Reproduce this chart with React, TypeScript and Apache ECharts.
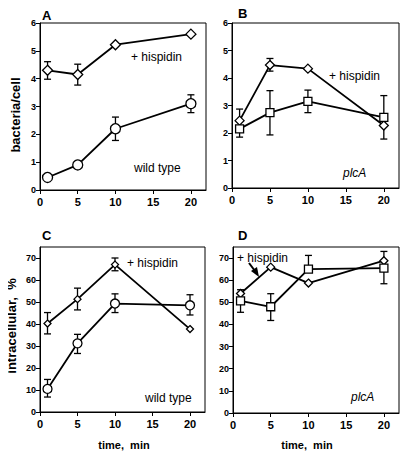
import React, { useEffect, useRef } from "react";
import * as echarts from "echarts";

// ---- data ----
const TIMES = [1, 5, 10, 20];

// Panel A: bacteria/cell, wild type
const A_HISP = [4.3, 4.15, 5.22, 5.6];
const A_HISP_LO = [3.98, 3.77, null, null];
const A_HISP_HI = [4.61, 4.52, null, null];
const A_WT = [0.45, 0.9, 2.2, 3.1];
const A_WT_LO = [null, null, 1.78, 2.78];
const A_WT_HI = [null, null, 2.62, 3.42];

// Panel B: bacteria/cell, plcA
const B_HISP = [2.45, 4.47, 4.34, 2.27];
const B_HISP_LO = [null, 4.25, null, 1.78];
const B_HISP_HI = [2.87, 4.71, null, null];
const B_PLC = [2.15, 2.74, 3.15, 2.57];
const B_PLC_LO = [1.85, 1.93, 2.74, null];
const B_PLC_HI = [null, 3.54, 3.56, 3.36];

// Panel C: intracellular %, wild type
const C_HISP = [40.2, 51.3, 67, 37.7];
const C_HISP_LO = [35.5, 46.4, 64.2, null];
const C_HISP_HI = [45.2, 56.3, 70, null];
const C_WT = [10.5, 31.2, 49.3, 48.5];
const C_WT_LO = [6.8, 26.6, 45.2, 44.1];
const C_WT_HI = [14.8, 35.3, 53.7, 53.3];

// Panel D: intracellular %, plcA
const D_HISP = [54, 65.9, 58.7, 68.8];
const D_HISP_LO = [null, null, null, null];
const D_HISP_HI = [55.7, null, null, 73];
const D_PLC = [50.7, 48, 65, 65.5];
const D_PLC_LO = [45.5, 41.8, null, 58.4];
const D_PLC_HI = [null, 53.9, 71.2, null];

const FONT = "'Liberation Sans', Arial, Helvetica, sans-serif";

function errData(vals: number[], lo: (number | null)[], hi: (number | null)[]) {
  return TIMES.map((t, i) => [t, vals[i], lo[i] ?? vals[i], hi[i] ?? vals[i]]);
}

function errSeries(idx: number, vals: number[], lo: (number | null)[], hi: (number | null)[]) {
  return {
    type: "custom",
    xAxisIndex: idx,
    yAxisIndex: idx,
    z: 1,
    silent: true,
    data: errData(vals, lo, hi),
    renderItem: (_params: any, api: any) => {
      const x = api.value(0);
      const y = api.value(1);
      const l = api.value(2);
      const h = api.value(3);
      const p = api.coord([x, y]);
      const children: any[] = [];
      const style = { stroke: "#000", lineWidth: 1.3 };
      const cap = 3.5;
      if (h !== y) {
        const ph = api.coord([x, h]);
        children.push({ type: "line", shape: { x1: p[0], y1: p[1], x2: ph[0], y2: ph[1] }, style });
        children.push({ type: "line", shape: { x1: ph[0] - cap, y1: ph[1], x2: ph[0] + cap, y2: ph[1] }, style });
      }
      if (l !== y) {
        const pl = api.coord([x, l]);
        children.push({ type: "line", shape: { x1: p[0], y1: p[1], x2: pl[0], y2: pl[1] }, style });
        children.push({ type: "line", shape: { x1: pl[0] - cap, y1: pl[1], x2: pl[0] + cap, y2: pl[1] }, style });
      }
      return { type: "group", children };
    },
  };
}

function lineSeries(idx: number, name: string, vals: number[], symbol: string, size: number) {
  return {
    type: "line",
    name,
    xAxisIndex: idx,
    yAxisIndex: idx,
    z: 3,
    data: TIMES.map((t, i) => [t, vals[i]]),
    symbol,
    symbolSize: size,
    showAllSymbol: true,
    lineStyle: { color: "#000", width: 1.8 },
    itemStyle: { color: "#fff", borderColor: "#000", borderWidth: 1.3 },
  };
}

const GRIDS = [
  { left: 40, top: 23, width: 166, height: 167 },
  { left: 232, top: 23, width: 167, height: 165 },
  { left: 40, top: 247, width: 165, height: 165 },
  { left: 233, top: 247, width: 166, height: 166 },
];

function xAxis(idx: number) {
  return {
    type: "value",
    gridIndex: idx,
    min: 0,
    max: 22,
    interval: 5,
    axisLine: { show: true, lineStyle: { color: "#000", width: 1 } },
    axisTick: { show: true, inside: false, length: 4, lineStyle: { color: "#000" } },
    axisLabel: {
      show: true,
      showMaxLabel: false,
      margin: 6,
      color: "#000",
      fontFamily: FONT,
      fontWeight: "bold",
      fontSize: 11,
    },
    splitLine: { show: false },
  };
}

function yAxis(idx: number, max: number, interval: number) {
  return {
    type: "value",
    gridIndex: idx,
    min: 0,
    max,
    interval,
    axisLine: { show: true, lineStyle: { color: "#000", width: 1 } },
    axisTick: { show: true, inside: false, length: 4, lineStyle: { color: "#000" } },
    axisLabel: {
      show: true,
      showMaxLabel: max % interval === 0,
      margin: 4,
      color: "#000",
      fontFamily: FONT,
      fontWeight: "bold",
      fontSize: 9,
    },
    splitLine: { show: false },
  };
}

function label(text: string, x: number, y: number, opts: any = {}) {
  return {
    type: "text",
    x,
    y,
    style: {
      text,
      fill: "#000",
      font: opts.font || `12px ${FONT}`,
      textAlign: opts.align || "left",
      textVerticalAlign: "middle",
    },
    rotation: opts.rotation || 0,
  };
}

export default function App() {
  const ref = useRef<HTMLDivElement>(null);
  useEffect(() => {
    if (!ref.current) return;
    const chart = echarts.init(ref.current, undefined, { renderer: "svg" });
    chart.setOption({
      animation: false,
      backgroundColor: "#fff",
      grid: GRIDS.map((g) => ({ ...g, show: true, borderColor: "#000", borderWidth: 1, backgroundColor: "transparent" })),
      xAxis: [0, 1, 2, 3].map((i) => xAxis(i)),
      yAxis: [yAxis(0, 6, 1), yAxis(1, 6, 1), yAxis(2, 75, 10), yAxis(3, 75, 10)],
      series: [
        errSeries(0, A_HISP, A_HISP_LO, A_HISP_HI),
        errSeries(0, A_WT, A_WT_LO, A_WT_HI),
        lineSeries(0, "A + hispidin", A_HISP, "diamond", 10),
        lineSeries(0, "A wild type", A_WT, "circle", 10),
        errSeries(1, B_HISP, B_HISP_LO, B_HISP_HI),
        errSeries(1, B_PLC, B_PLC_LO, B_PLC_HI),
        lineSeries(1, "B + hispidin", B_HISP, "diamond", 9),
        lineSeries(1, "B plcA", B_PLC, "rect", 8),
        errSeries(2, C_HISP, C_HISP_LO, C_HISP_HI),
        errSeries(2, C_WT, C_WT_LO, C_WT_HI),
        lineSeries(2, "C + hispidin", C_HISP, "diamond", 7),
        lineSeries(2, "C wild type", C_WT, "circle", 9),
        errSeries(3, D_HISP, D_HISP_LO, D_HISP_HI),
        errSeries(3, D_PLC, D_PLC_LO, D_PLC_HI),
        lineSeries(3, "D + hispidin", D_HISP, "diamond", 8),
        lineSeries(3, "D plcA", D_PLC, "rect", 8),
      ],
      graphic: [
        label("A", 42, 15, { font: `bold 13px ${FONT}` }),
        label("B", 238, 13, { font: `bold 13px ${FONT}` }),
        label("C", 42, 235, { font: `bold 13px ${FONT}` }),
        label("D", 238, 235, { font: `bold 13px ${FONT}` }),
        label("bacteria/cell", 15, 115, { font: `bold 13px ${FONT}`, align: "center", rotation: Math.PI / 2 }),
        label("intracellular,  %", 11, 326, { font: `bold 13px ${FONT}`, align: "center", rotation: Math.PI / 2 }),
        label("time,  min", 124, 445, { font: `bold 11px ${FONT}`, align: "center" }),
        label("time,  min", 307, 445, { font: `bold 11px ${FONT}`, align: "center" }),
        label("+ hispidin", 131, 57, { font: `12px ${FONT}` }),
        label("wild type", 134, 168, { font: `12px ${FONT}` }),
        label("+ hispidin", 329, 76, { font: `12px ${FONT}` }),
        label("plcA", 343, 173, { font: `italic 12px ${FONT}` }),
        label("+ hispidin", 127, 263, { font: `12px ${FONT}` }),
        label("wild type", 145, 398, { font: `12px ${FONT}` }),
        label("+ hispidin", 237, 258, { font: `12px ${FONT}` }),
        label("plcA", 351, 397, { font: `italic 12px ${FONT}` }),
        { type: "line", shape: { x1: 249, y1: 263, x2: 255, y2: 271 }, style: { stroke: "#000", lineWidth: 2 } },
        { type: "polygon", shape: { points: [[259, 277], [251, 271], [257, 267]] }, style: { fill: "#000" } },
      ],
    });
    return () => chart.dispose();
  }, []);
  return <div ref={ref} style={{ width: 409, height: 452, marginLeft: -8, marginTop: -8 }} />;
}
